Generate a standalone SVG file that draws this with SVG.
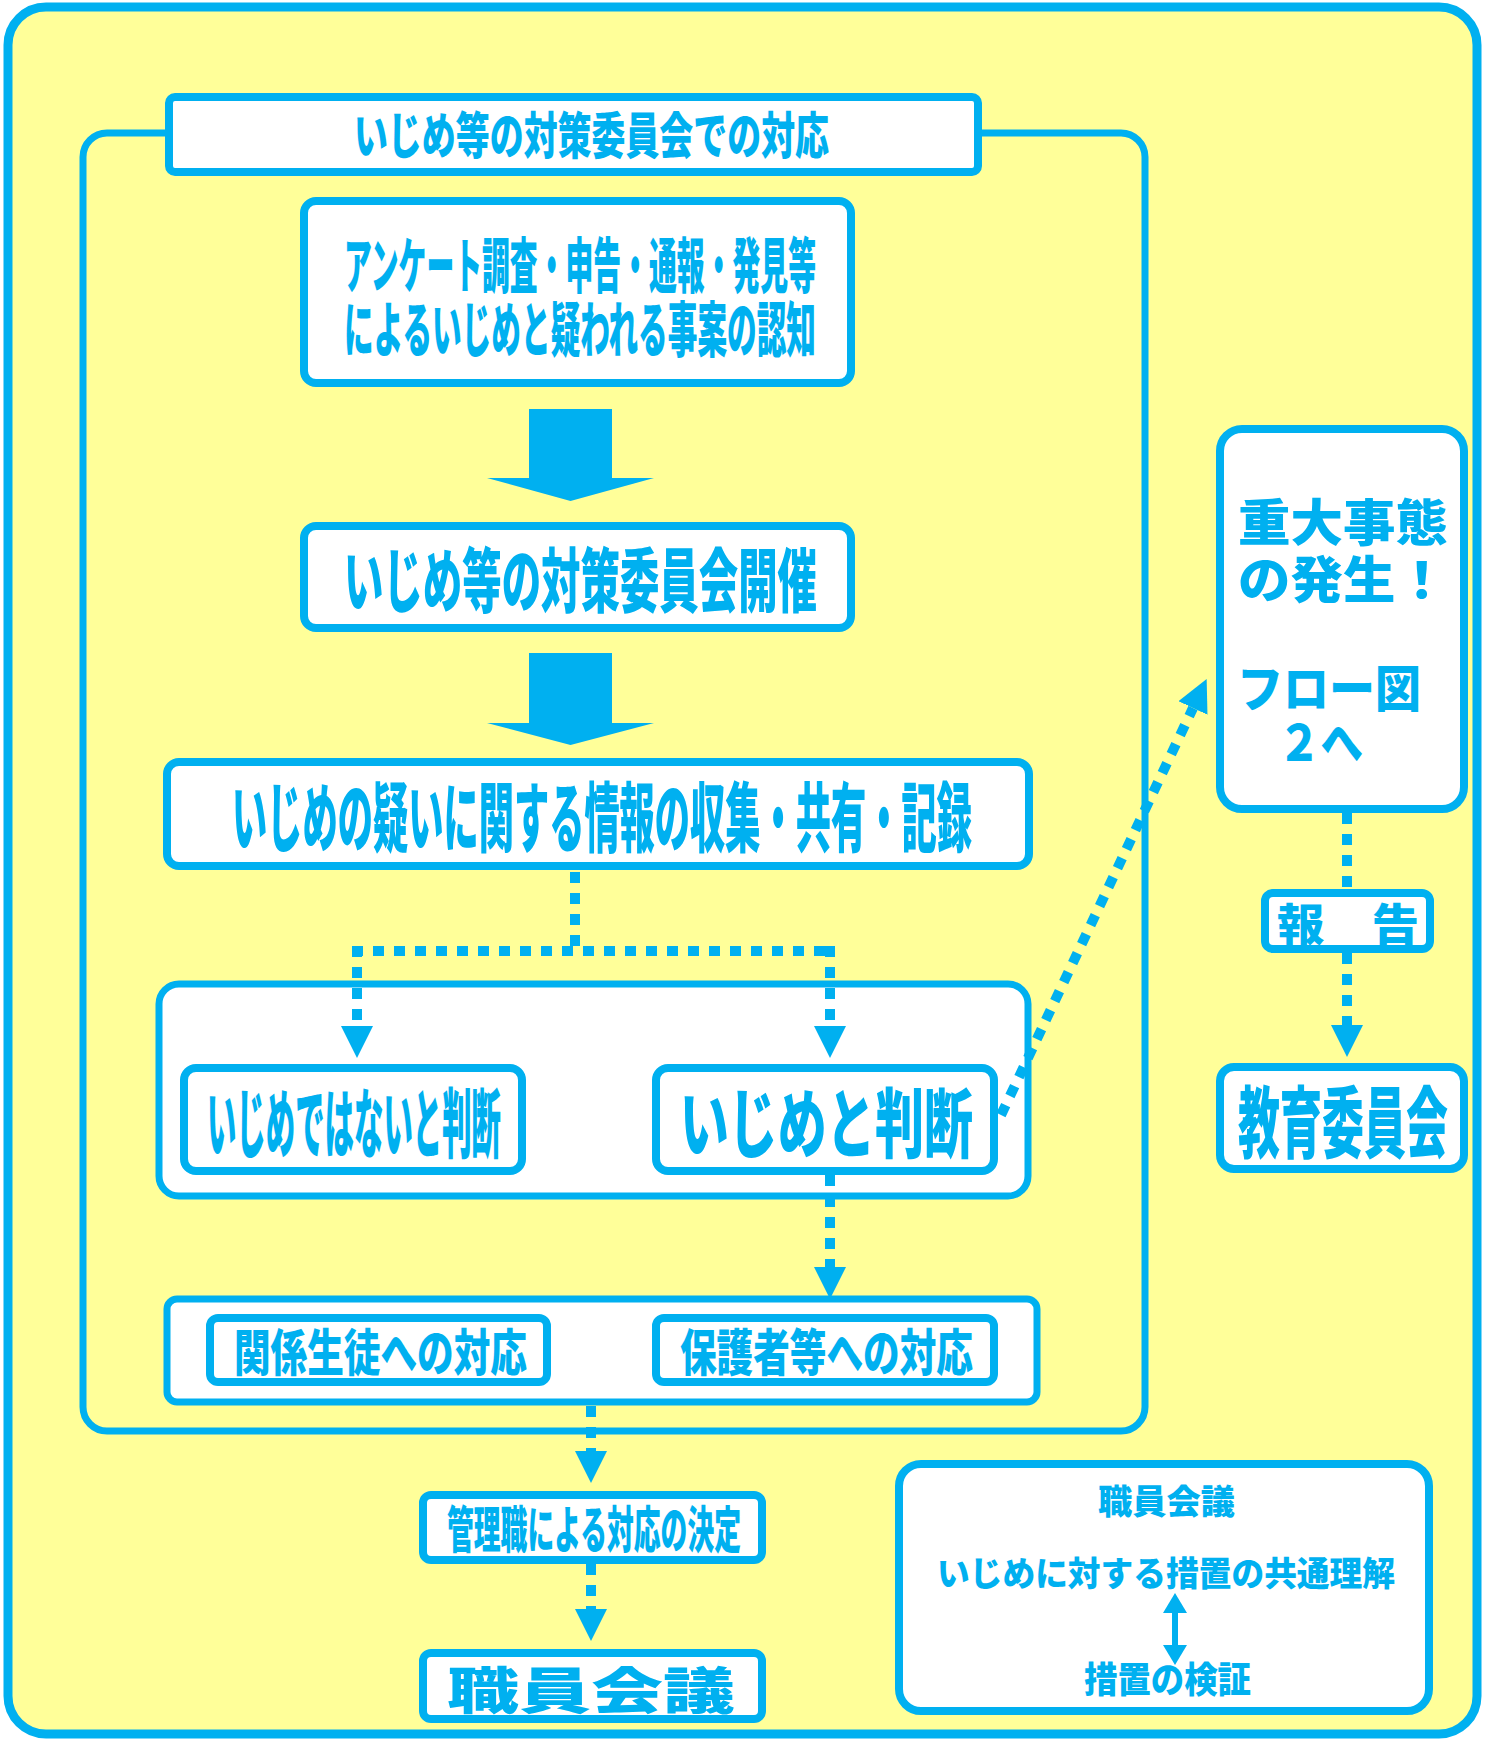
<svg xmlns="http://www.w3.org/2000/svg" width="1486" height="1739" viewBox="0 0 1486 1739">
<style>
.box{fill:#FFFFFF;stroke:#00B0F0;stroke-width:8}
.grp{fill:#FFFFFF;stroke:#00B0F0;stroke-width:7}
.t{font-family:"Noto Sans CJK JP","Noto Sans CJK SC",sans-serif;font-weight:900;fill:#00B0F0}
.dot{fill:none;stroke:#00B0F0;stroke-width:10;stroke-dasharray:11 10}
.solid{fill:#00B0F0}
</style>
<defs>
<marker id="ah" markerUnits="userSpaceOnUse" viewBox="0 0 32 32" refX="0" refY="16" markerWidth="32" markerHeight="32" orient="auto">
<path d="M0,0 L32,16 L0,32 Z" fill="#00B0F0"/>
</marker>
</defs>
<rect x="0" y="0" width="1486" height="1739" fill="#FFFFFF"/>
<rect id="outer" x="8" y="7" width="1469" height="1727" rx="38" fill="#FFFF99" stroke="#00B0F0" stroke-width="9"/>
<rect id="committee-frame" x="83" y="133" width="1062" height="1298" rx="24" fill="none" stroke="#00B0F0" stroke-width="7"/>

<g id="title">
<rect class="box" x="169" y="97" width="809" height="75" rx="6"/>
<text class="t" x="354" y="154" font-size="50" textLength="475" lengthAdjust="spacingAndGlyphs">いじめ等の対策委員会での対応</text>
</g>

<g id="n-recognition">
<rect class="box" x="304" y="201" width="547" height="182" rx="12"/>
<text class="t" x="344" y="288" font-size="60" textLength="472" lengthAdjust="spacingAndGlyphs">アンケート調査・申告・通報・発見等</text>
<text class="t" x="344" y="352" font-size="60" textLength="472" lengthAdjust="spacingAndGlyphs">によるいじめと疑われる事案の認知</text>
</g>

<g id="n-meeting">
<rect class="box" x="304" y="526" width="547" height="102" rx="12"/>
<text class="t" x="344" y="607" font-size="70" textLength="473" lengthAdjust="spacingAndGlyphs">いじめ等の対策委員会開催</text>
</g>

<g id="n-info">
<rect class="box" x="167" y="762" width="862" height="104" rx="12"/>
<text class="t" x="232" y="846" font-size="76" textLength="740" lengthAdjust="spacingAndGlyphs">いじめの疑いに関する情報の収集・共有・記録</text>
</g>

<g id="g-judge">
<rect class="grp" x="159" y="984" width="869" height="212" rx="20"/>
</g>
<g id="n-not-bullying">
<rect class="box" x="184" y="1068" width="338" height="103" rx="12"/>
<text class="t" x="207" y="1152" font-size="76" textLength="294" lengthAdjust="spacingAndGlyphs">いじめではないと判断</text>
</g>
<g id="n-bullying">
<rect class="box" x="656" y="1068" width="338" height="103" rx="12"/>
<text class="t" x="680" y="1152" font-size="76" textLength="293" lengthAdjust="spacingAndGlyphs">いじめと判断</text>
</g>

<g id="g-response">
<rect class="grp" x="167" y="1299" width="870" height="103" rx="10"/>
</g>
<g id="n-students">
<rect class="box" x="210" y="1318" width="337" height="64" rx="8"/>
<text class="t" x="234" y="1371" font-size="50" textLength="293" lengthAdjust="spacingAndGlyphs">関係生徒への対応</text>
</g>
<g id="n-parents">
<rect class="box" x="656" y="1318" width="338" height="64" rx="8"/>
<text class="t" x="680" y="1371" font-size="50" textLength="293" lengthAdjust="spacingAndGlyphs">保護者等への対応</text>
</g>

<g id="n-admin">
<rect class="box" x="423" y="1495" width="339" height="65" rx="8"/>
<text class="t" x="447" y="1548" font-size="50" textLength="294" lengthAdjust="spacingAndGlyphs">管理職による対応の決定</text>
</g>
<g id="n-staff">
<rect class="box" x="423" y="1653" width="339" height="66" rx="8"/>
<text class="t" x="447" y="1709" font-size="50" textLength="288" lengthAdjust="spacingAndGlyphs">職員会議</text>
</g>

<g id="n-serious">
<rect class="box" x="1220" y="429" width="244" height="380" rx="22"/>
<text class="t" x="1238" y="541" font-size="50" textLength="210" lengthAdjust="spacingAndGlyphs">重大事態</text>
<text class="t" x="1238" y="598" font-size="50" textLength="210" lengthAdjust="spacingAndGlyphs">の発生！</text>
<text class="t" x="1237" y="707" font-size="50" textLength="184" lengthAdjust="spacingAndGlyphs">フロー図</text>
<text class="t" x="1278" y="761" font-size="50" textLength="85" lengthAdjust="spacingAndGlyphs">２へ</text>
</g>
<g id="n-report">
<rect class="box" x="1265" y="893" width="165" height="56" rx="8"/>
<text class="t" x="1277" y="941" font-size="44" textLength="142" lengthAdjust="spacingAndGlyphs">報　告</text>
</g>
<g id="n-board">
<rect class="box" x="1220" y="1067" width="244" height="102" rx="14"/>
<text class="t" x="1238" y="1152" font-size="78" textLength="210" lengthAdjust="spacingAndGlyphs">教育委員会</text>
</g>

<g id="n-staff-note">
<rect class="box" x="899" y="1464" width="530" height="247" rx="22"/>
<text class="t" x="1098" y="1514" font-size="34" textLength="137" lengthAdjust="spacingAndGlyphs">職員会議</text>
<text class="t" x="937" y="1586" font-size="34" textLength="458" lengthAdjust="spacingAndGlyphs">いじめに対する措置の共通理解</text>
<text class="t" x="1084" y="1693" font-size="36" textLength="167" lengthAdjust="spacingAndGlyphs">措置の検証</text>
</g>

<g id="connectors">
<polygon class="solid" points="529,409 612,409 612,478 654,478 570.5,501 487,478 529,478"/>
<polygon class="solid" points="529,653 612,653 612,723 654,723 570.5,745 487,723 529,723"/>
<path class="dot" d="M575,872 V946"/>
<path class="dot" d="M352,951 H835"/>
<path class="dot" d="M357,946 V1026" marker-end="url(#ah)"/>
<path class="dot" d="M830,946 V1026" marker-end="url(#ah)"/>
<path class="dot" d="M830,1175 V1267" marker-end="url(#ah)"/>
<path class="dot" d="M591,1406 V1451" marker-end="url(#ah)"/>
<path class="dot" d="M591,1564 V1609" marker-end="url(#ah)"/>
<path class="dot" d="M1347,813 V889"/>
<path class="dot" d="M1347,953 V1025" marker-end="url(#ah)"/>
<path class="dot" d="M1001,1115 L1193,708" marker-end="url(#ah)"/>
<line x1="1175" y1="1611" x2="1175" y2="1647" stroke="#00B0F0" stroke-width="6"/>
<polygon class="solid" points="1163,1613 1175,1593 1187,1613"/>
<polygon class="solid" points="1163,1645 1175,1665 1187,1645"/>
</g>
</svg>
